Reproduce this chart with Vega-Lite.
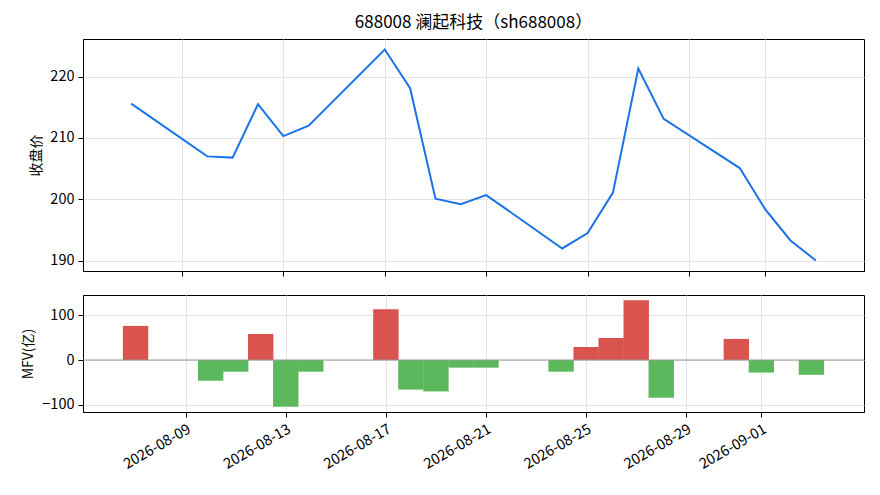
{
  "$schema": "https://vega.github.io/schema/vega-lite/v6.json",
  "description": "688008 closing price and MFV bars, two stacked panels.",
  "padding": {"left": 21, "top": 13, "right": 16, "bottom": 5},
  "data": {
    "values": [
      {"date": "2026-08-07", "close": 215.6, "mfv": 76},
      {"date": "2026-08-10", "close": 207.0, "mfv": -46},
      {"date": "2026-08-11", "close": 206.8, "mfv": -26},
      {"date": "2026-08-12", "close": 215.5, "mfv": 58},
      {"date": "2026-08-13", "close": 210.3, "mfv": -104},
      {"date": "2026-08-14", "close": 212.0, "mfv": -26},
      {"date": "2026-08-17", "close": 224.4, "mfv": 113},
      {"date": "2026-08-18", "close": 218.1, "mfv": -66},
      {"date": "2026-08-19", "close": 200.1, "mfv": -70},
      {"date": "2026-08-20", "close": 199.2, "mfv": -17},
      {"date": "2026-08-21", "close": 200.7, "mfv": -17},
      {"date": "2026-08-24", "close": 192.0, "mfv": -26},
      {"date": "2026-08-25", "close": 194.5, "mfv": 29},
      {"date": "2026-08-26", "close": 201.1, "mfv": 49},
      {"date": "2026-08-27", "close": 221.3, "mfv": 133},
      {"date": "2026-08-28", "close": 213.1, "mfv": -84},
      {"date": "2026-08-31", "close": 205.1, "mfv": 47},
      {"date": "2026-09-01", "close": 198.4, "mfv": -28},
      {"date": "2026-09-02", "close": 193.3, "mfv": 0},
      {"date": "2026-09-03", "close": 190.05, "mfv": -33}
    ]
  },
  "spacing": 17,
  "vconcat": [
    {
      "width": 781,
      "height": 232,
      "title": {
        "text": "688008 澜起科技（sh688008）",
        "fontSize": 17,
        "font": "Noto Sans CJK SC",
        "fontWeight": "normal",
        "color": "black",
        "anchor": "middle",
        "frame": "group",
        "offset": 7
      },
      "mark": {"type": "line", "color": "#1a73e8", "strokeWidth": 2},
      "encoding": {
        "x": {
          "field": "date",
          "type": "temporal",
          "scale": {
            "type": "utc",
            "domain": [
              {"year": 2026, "month": 8, "date": 5, "hours": 2, "minutes": 24, "utc": true},
              {"year": 2026, "month": 9, "date": 4, "hours": 21, "minutes": 36, "utc": true}
            ]
          },
          "axis": {
            "title": null,
            "labels": false,
            "values": [
              {"year": 2026, "month": 8, "date": 9, "utc": true},
              {"year": 2026, "month": 8, "date": 13, "utc": true},
              {"year": 2026, "month": 8, "date": 17, "utc": true},
              {"year": 2026, "month": 8, "date": 21, "utc": true},
              {"year": 2026, "month": 8, "date": 25, "utc": true},
              {"year": 2026, "month": 8, "date": 29, "utc": true},
              {"year": 2026, "month": 9, "date": 1, "utc": true}
            ]
          }
        },
        "y": {
          "field": "close",
          "type": "quantitative",
          "scale": {"domain": [188.33, 226.12], "nice": false, "zero": false},
          "axis": {"title": "收盘价", "values": [190, 200, 210, 220]}
        }
      }
    },
    {
      "width": 781,
      "height": 117,
      "layer": [
        {
          "mark": {"type": "bar", "size": 25.4},
          "encoding": {
            "x": {
              "field": "date",
              "type": "temporal",
              "scale": {
                "type": "utc",
                "domain": [
                  {"year": 2026, "month": 8, "date": 5, "hours": 2, "minutes": 24, "utc": true},
                  {"year": 2026, "month": 9, "date": 4, "hours": 21, "minutes": 36, "utc": true}
                ]
              },
              "axis": {
                "title": null,
                "format": "%Y-%m-%d",
                "labelAngle": -30,
                "labelAlign": "right",
                "labelBaseline": "top",
                "labelPadding": 5,
                "values": [
                  {"year": 2026, "month": 8, "date": 9, "utc": true},
                  {"year": 2026, "month": 8, "date": 13, "utc": true},
                  {"year": 2026, "month": 8, "date": 17, "utc": true},
                  {"year": 2026, "month": 8, "date": 21, "utc": true},
                  {"year": 2026, "month": 8, "date": 25, "utc": true},
                  {"year": 2026, "month": 8, "date": 29, "utc": true},
                  {"year": 2026, "month": 9, "date": 1, "utc": true}
                ]
              }
            },
            "y": {
              "field": "mfv",
              "type": "quantitative",
              "scale": {"domain": [-115.85, 144.85], "nice": false},
              "axis": {"title": "MFV(亿)", "values": [-100, 0, 100]}
            },
            "color": {
              "condition": {"test": "datum.mfv > 0", "value": "#d9534f"},
              "value": "#5cb85c"
            }
          }
        },
        {
          "data": {"values": [{"level": 0}]},
          "mark": {"type": "rule", "color": "#999999", "strokeWidth": 1},
          "encoding": {
            "y": {"field": "level", "type": "quantitative"}
          }
        }
      ]
    }
  ],
  "config": {
    "font": "Noto Sans CJK SC",
    "view": {"stroke": "black", "strokeWidth": 1},
    "axis": {
      "labelFont": "Noto Sans CJK SC",
      "labelFontSize": 14.5,
      "labelColor": "black",
      "labelPadding": 4,
      "titleFont": "Noto Sans CJK SC",
      "titleFontSize": 14,
      "titleFontWeight": "normal",
      "titleColor": "black",
      "titlePadding": 6,
      "tickColor": "black",
      "tickSize": 5,
      "domainColor": "black",
      "gridColor": "#e4e4e4",
      "gridWidth": 1
    }
  }
}
